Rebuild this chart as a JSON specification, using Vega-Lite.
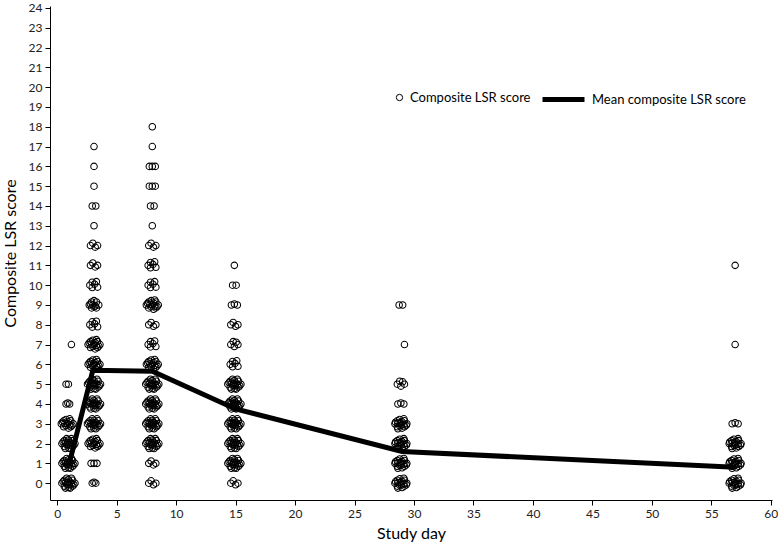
{
"$schema": "https://vega.github.io/schema/vega-lite/v6.json",
"width": 722, "height": 494,
"autosize": "none",
"padding": {"left": 50, "top": 6, "right": 6, "bottom": 48},
"background": "white",
"config": {"font": "Lato", "view": {"stroke": null},
 "axis": {"grid": false, "domainColor": "black", "tickColor": "black", "tickSize": 5, "labelFontSize": 12, "labelColor": "#222", "titleFontSize": 16, "titleFontWeight": "normal", "titleColor": "black", "labelFont": "Lato", "titleFont": "Lato", "labelOverlap": false},
 "legend": {"labelFont": "Lato", "labelFontSize": 13, "labelColor": "black", "padding": 0, "title": null}
},
"datasets": {
"mean": [{"day":1,"score":0.95},{"day":3,"score":5.7},{"day":8,"score":5.65},{"day":15,"score":3.75},{"day":29,"score":1.6},{"day":57,"score":0.8}],
"pts": [
{"day":0.4,"score":0},{"day":0.6,"score":0.15},{"day":0.6,"score":-0.15},{"day":0.8,"score":0.25},{"day":0.8,"score":-0.05},{"day":0.95,"score":0.18},{"day":0.95,"score":-0.22},{"day":1.1,"score":0.05},{"day":1.1,"score":-0.25},{"day":1.3,"score":0.15},{"day":1.3,"score":-0.15},{"day":1.5,"score":0},
{"day":0.4,"score":1},{"day":0.6,"score":1.15},{"day":0.6,"score":0.85},{"day":0.8,"score":1.25},{"day":0.8,"score":0.95},{"day":0.95,"score":1.18},{"day":0.95,"score":0.78},{"day":1.1,"score":1.05},{"day":1.1,"score":0.75},{"day":1.3,"score":1.15},{"day":1.3,"score":0.85},{"day":1.5,"score":1},
{"day":0.4,"score":2},{"day":0.6,"score":2.15},{"day":0.6,"score":1.85},{"day":0.8,"score":2.25},{"day":0.8,"score":1.95},{"day":0.95,"score":2.18},{"day":0.95,"score":1.78},{"day":1.1,"score":2.05},{"day":1.1,"score":1.75},{"day":1.3,"score":2.15},{"day":1.3,"score":1.85},{"day":1.5,"score":2},
{"day":0.35,"score":3},{"day":0.55,"score":3.15},{"day":0.55,"score":2.85},{"day":0.75,"score":3.22},{"day":0.75,"score":2.9},{"day":0.95,"score":3.1},{"day":0.95,"score":2.78},{"day":1.15,"score":3.15},{"day":1.15,"score":2.85},{"day":1.35,"score":3},
{"day":0.75,"score":4},{"day":0.9,"score":4.05},{"day":1.05,"score":4},
{"day":0.75,"score":5},{"day":0.95,"score":5},
{"day":1.2,"score":7},
{"day":0.5,"score":0.08},{"day":0.7,"score":0.02},{"day":0.7,"score":-0.25},{"day":0.9,"score":0.05},{"day":1.0,"score":-0.08},{"day":1.2,"score":0.25},{"day":1.2,"score":-0.02},{"day":1.4,"score":-0.08},
{"day":0.5,"score":1.08},{"day":0.7,"score":1.02},{"day":0.7,"score":0.75},{"day":0.9,"score":1.05},{"day":1.0,"score":0.92},{"day":1.2,"score":1.25},{"day":1.2,"score":0.98},{"day":1.4,"score":0.92},
{"day":0.5,"score":2.08},{"day":0.7,"score":2.02},{"day":0.7,"score":1.75},{"day":0.9,"score":2.05},{"day":1.0,"score":1.92},{"day":1.2,"score":2.25},{"day":1.2,"score":1.98},{"day":1.4,"score":1.92},
{"day":0.45,"score":3.08},{"day":0.65,"score":3.02},{"day":0.85,"score":3.02},{"day":1.05,"score":2.95},{"day":1.05,"score":3.25},{"day":1.25,"score":2.92},
{"day":2.95,"score":0},{"day":3.1,"score":0.05},{"day":3.25,"score":0},
{"day":2.85,"score":1},{"day":3.1,"score":1},{"day":3.35,"score":1},
{"day":2.6,"score":2},{"day":2.8,"score":2.15},{"day":2.8,"score":1.85},{"day":3.0,"score":2.22},{"day":3.0,"score":1.9},{"day":3.2,"score":2.1},{"day":3.2,"score":1.78},{"day":3.4,"score":2.15},{"day":3.4,"score":1.85},{"day":3.6,"score":2},
{"day":2.55,"score":3},{"day":2.75,"score":3.15},{"day":2.75,"score":2.85},{"day":2.95,"score":3.25},{"day":2.95,"score":2.95},{"day":3.1,"score":3.18},{"day":3.1,"score":2.78},{"day":3.25,"score":3.05},{"day":3.25,"score":2.75},{"day":3.45,"score":3.15},{"day":3.45,"score":2.85},{"day":3.65,"score":3},
{"day":2.55,"score":4},{"day":2.75,"score":4.15},{"day":2.75,"score":3.85},{"day":2.95,"score":4.25},{"day":2.95,"score":3.95},{"day":3.1,"score":4.18},{"day":3.1,"score":3.78},{"day":3.25,"score":4.05},{"day":3.25,"score":3.75},{"day":3.45,"score":4.15},{"day":3.45,"score":3.85},{"day":3.65,"score":4},
{"day":2.55,"score":5},{"day":2.75,"score":5.15},{"day":2.75,"score":4.85},{"day":2.95,"score":5.25},{"day":2.95,"score":4.95},{"day":3.1,"score":5.18},{"day":3.1,"score":4.78},{"day":3.25,"score":5.05},{"day":3.25,"score":4.75},{"day":3.45,"score":5.15},{"day":3.45,"score":4.85},{"day":3.65,"score":5},
{"day":2.6,"score":6},{"day":2.8,"score":6.15},{"day":2.8,"score":5.85},{"day":3.0,"score":6.22},{"day":3.0,"score":5.9},{"day":3.2,"score":6.1},{"day":3.2,"score":5.78},{"day":3.4,"score":6.15},{"day":3.4,"score":5.85},{"day":3.6,"score":6},
{"day":2.6,"score":7},{"day":2.8,"score":7.15},{"day":2.8,"score":6.85},{"day":3.0,"score":7.22},{"day":3.0,"score":6.9},{"day":3.2,"score":7.1},{"day":3.2,"score":6.78},{"day":3.4,"score":7.15},{"day":3.4,"score":6.85},{"day":3.6,"score":7},
{"day":2.75,"score":8},{"day":2.95,"score":8.15},{"day":2.95,"score":7.88},{"day":3.15,"score":8.05},{"day":3.3,"score":8.18},{"day":3.4,"score":7.9},
{"day":2.7,"score":9},{"day":2.9,"score":9.15},{"day":2.9,"score":8.85},{"day":3.1,"score":9.22},{"day":3.1,"score":8.9},{"day":3.3,"score":9.15},{"day":3.3,"score":8.85},{"day":3.5,"score":9},
{"day":2.75,"score":10},{"day":2.95,"score":10.15},{"day":2.95,"score":9.88},{"day":3.15,"score":10.05},{"day":3.3,"score":10.18},{"day":3.4,"score":9.9},
{"day":2.8,"score":11},{"day":3.0,"score":11.12},{"day":3.2,"score":10.92},{"day":3.4,"score":11},
{"day":2.8,"score":12},{"day":3.0,"score":12.12},{"day":3.2,"score":11.92},{"day":3.4,"score":12},
{"day":3.1,"score":13},
{"day":2.95,"score":14},{"day":3.25,"score":14},
{"day":3.1,"score":15},{"day":3.1,"score":16},{"day":3.1,"score":17},
{"day":2.65,"score":3.08},{"day":2.85,"score":3.02},{"day":2.85,"score":2.75},{"day":3.05,"score":3.05},{"day":3.15,"score":2.92},{"day":3.35,"score":3.25},{"day":3.35,"score":2.98},{"day":3.55,"score":2.92},
{"day":2.65,"score":4.08},{"day":2.85,"score":4.02},{"day":2.85,"score":3.75},{"day":3.05,"score":4.05},{"day":3.15,"score":3.92},{"day":3.35,"score":4.25},{"day":3.35,"score":3.98},{"day":3.55,"score":3.92},
{"day":2.65,"score":5.08},{"day":2.85,"score":5.02},{"day":2.85,"score":4.75},{"day":3.05,"score":5.05},{"day":3.15,"score":4.92},{"day":3.35,"score":5.25},{"day":3.35,"score":4.98},{"day":3.55,"score":4.92},
{"day":2.7,"score":2.08},{"day":2.9,"score":2.02},{"day":3.1,"score":2.02},{"day":3.3,"score":1.95},{"day":3.3,"score":2.25},{"day":3.5,"score":1.92},
{"day":2.7,"score":6.08},{"day":2.9,"score":6.02},{"day":3.1,"score":6.02},{"day":3.3,"score":5.95},{"day":3.3,"score":6.25},{"day":3.5,"score":5.92},
{"day":2.7,"score":7.08},{"day":2.9,"score":7.02},{"day":3.1,"score":7.02},{"day":3.3,"score":6.95},{"day":3.3,"score":7.25},{"day":3.5,"score":6.92},
{"day":2.8,"score":9.05},{"day":3.0,"score":9.0},{"day":3.2,"score":8.95},
{"day":7.7,"score":0},{"day":7.9,"score":0.12},{"day":8.1,"score":-0.08},{"day":8.3,"score":0},
{"day":7.7,"score":1},{"day":7.9,"score":1.12},{"day":8.1,"score":0.92},{"day":8.3,"score":1},
{"day":7.45,"score":2},{"day":7.65,"score":2.15},{"day":7.65,"score":1.85},{"day":7.85,"score":2.25},{"day":7.85,"score":1.95},{"day":8.0,"score":2.18},{"day":8.0,"score":1.78},{"day":8.15,"score":2.05},{"day":8.15,"score":1.75},{"day":8.35,"score":2.15},{"day":8.35,"score":1.85},{"day":8.55,"score":2},
{"day":7.45,"score":3},{"day":7.65,"score":3.15},{"day":7.65,"score":2.85},{"day":7.85,"score":3.25},{"day":7.85,"score":2.95},{"day":8.0,"score":3.18},{"day":8.0,"score":2.78},{"day":8.15,"score":3.05},{"day":8.15,"score":2.75},{"day":8.35,"score":3.15},{"day":8.35,"score":2.85},{"day":8.55,"score":3},
{"day":7.45,"score":4},{"day":7.65,"score":4.15},{"day":7.65,"score":3.85},{"day":7.85,"score":4.25},{"day":7.85,"score":3.95},{"day":8.0,"score":4.18},{"day":8.0,"score":3.78},{"day":8.15,"score":4.05},{"day":8.15,"score":3.75},{"day":8.35,"score":4.15},{"day":8.35,"score":3.85},{"day":8.55,"score":4},
{"day":7.45,"score":5},{"day":7.65,"score":5.15},{"day":7.65,"score":4.85},{"day":7.85,"score":5.25},{"day":7.85,"score":4.95},{"day":8.0,"score":5.18},{"day":8.0,"score":4.78},{"day":8.15,"score":5.05},{"day":8.15,"score":4.75},{"day":8.35,"score":5.15},{"day":8.35,"score":4.85},{"day":8.55,"score":5},
{"day":7.5,"score":6},{"day":7.7,"score":6.15},{"day":7.7,"score":5.85},{"day":7.9,"score":6.22},{"day":7.9,"score":5.9},{"day":8.1,"score":6.1},{"day":8.1,"score":5.78},{"day":8.3,"score":6.15},{"day":8.3,"score":5.85},{"day":8.5,"score":6},
{"day":7.65,"score":7},{"day":7.85,"score":7.15},{"day":7.85,"score":6.88},{"day":8.05,"score":7.05},{"day":8.2,"score":7.18},{"day":8.3,"score":6.9},
{"day":7.7,"score":8},{"day":7.9,"score":8.12},{"day":8.1,"score":7.92},{"day":8.3,"score":8},
{"day":7.5,"score":9},{"day":7.7,"score":9.15},{"day":7.7,"score":8.85},{"day":7.9,"score":9.22},{"day":7.9,"score":8.9},{"day":8.1,"score":9.1},{"day":8.1,"score":8.78},{"day":8.3,"score":9.15},{"day":8.3,"score":8.85},{"day":8.5,"score":9},
{"day":7.65,"score":10},{"day":7.85,"score":10.15},{"day":7.85,"score":9.88},{"day":8.05,"score":10.05},{"day":8.2,"score":10.18},{"day":8.3,"score":9.9},
{"day":7.65,"score":11},{"day":7.85,"score":11.15},{"day":7.85,"score":10.88},{"day":8.05,"score":11.05},{"day":8.2,"score":11.18},{"day":8.3,"score":10.9},
{"day":7.7,"score":12},{"day":7.9,"score":12.12},{"day":8.1,"score":11.92},{"day":8.3,"score":12},
{"day":8.0,"score":13},
{"day":7.85,"score":14},{"day":8.15,"score":14},
{"day":7.75,"score":15},{"day":8.0,"score":15},{"day":8.25,"score":15},
{"day":7.75,"score":16},{"day":8.0,"score":16},{"day":8.25,"score":16},
{"day":8.0,"score":17},{"day":8.0,"score":18},
{"day":7.55,"score":2.08},{"day":7.75,"score":2.02},{"day":7.75,"score":1.75},{"day":7.95,"score":2.05},{"day":8.05,"score":1.92},{"day":8.25,"score":2.25},{"day":8.25,"score":1.98},{"day":8.45,"score":1.92},
{"day":7.55,"score":3.08},{"day":7.75,"score":3.02},{"day":7.75,"score":2.75},{"day":7.95,"score":3.05},{"day":8.05,"score":2.92},{"day":8.25,"score":3.25},{"day":8.25,"score":2.98},{"day":8.45,"score":2.92},
{"day":7.55,"score":4.08},{"day":7.75,"score":4.02},{"day":7.75,"score":3.75},{"day":7.95,"score":4.05},{"day":8.05,"score":3.92},{"day":8.25,"score":4.25},{"day":8.25,"score":3.98},{"day":8.45,"score":3.92},
{"day":7.55,"score":5.08},{"day":7.75,"score":5.02},{"day":7.75,"score":4.75},{"day":7.95,"score":5.05},{"day":8.05,"score":4.92},{"day":8.25,"score":5.25},{"day":8.25,"score":4.98},{"day":8.45,"score":4.92},
{"day":7.6,"score":6.08},{"day":7.8,"score":6.02},{"day":8.0,"score":6.02},{"day":8.2,"score":5.95},{"day":8.2,"score":6.25},{"day":8.4,"score":5.92},
{"day":7.6,"score":9.08},{"day":7.8,"score":9.02},{"day":8.0,"score":9.02},{"day":8.2,"score":8.95},{"day":8.2,"score":9.25},{"day":8.4,"score":8.92},
{"day":14.6,"score":0},{"day":14.8,"score":0.12},{"day":15.0,"score":-0.08},{"day":15.2,"score":0},
{"day":14.35,"score":1},{"day":14.55,"score":1.15},{"day":14.55,"score":0.85},{"day":14.75,"score":1.25},{"day":14.75,"score":0.95},{"day":14.9,"score":1.18},{"day":14.9,"score":0.78},{"day":15.05,"score":1.05},{"day":15.05,"score":0.75},{"day":15.25,"score":1.15},{"day":15.25,"score":0.85},{"day":15.45,"score":1},
{"day":14.35,"score":2},{"day":14.55,"score":2.15},{"day":14.55,"score":1.85},{"day":14.75,"score":2.25},{"day":14.75,"score":1.95},{"day":14.9,"score":2.18},{"day":14.9,"score":1.78},{"day":15.05,"score":2.05},{"day":15.05,"score":1.75},{"day":15.25,"score":2.15},{"day":15.25,"score":1.85},{"day":15.45,"score":2},
{"day":14.35,"score":3},{"day":14.55,"score":3.15},{"day":14.55,"score":2.85},{"day":14.75,"score":3.25},{"day":14.75,"score":2.95},{"day":14.9,"score":3.18},{"day":14.9,"score":2.78},{"day":15.05,"score":3.05},{"day":15.05,"score":2.75},{"day":15.25,"score":3.15},{"day":15.25,"score":2.85},{"day":15.45,"score":3},
{"day":14.35,"score":4},{"day":14.55,"score":4.15},{"day":14.55,"score":3.85},{"day":14.75,"score":4.25},{"day":14.75,"score":3.95},{"day":14.9,"score":4.18},{"day":14.9,"score":3.78},{"day":15.05,"score":4.05},{"day":15.05,"score":3.75},{"day":15.25,"score":4.15},{"day":15.25,"score":3.85},{"day":15.45,"score":4},
{"day":14.35,"score":5},{"day":14.55,"score":5.15},{"day":14.55,"score":4.85},{"day":14.75,"score":5.25},{"day":14.75,"score":4.95},{"day":14.9,"score":5.18},{"day":14.9,"score":4.78},{"day":15.05,"score":5.05},{"day":15.05,"score":4.75},{"day":15.25,"score":5.15},{"day":15.25,"score":4.85},{"day":15.45,"score":5},
{"day":14.55,"score":6},{"day":14.75,"score":6.15},{"day":14.75,"score":5.88},{"day":14.95,"score":6.05},{"day":15.1,"score":6.18},{"day":15.2,"score":5.9},
{"day":14.6,"score":7},{"day":14.8,"score":7.15},{"day":14.9,"score":6.9},{"day":15.05,"score":7.12},{"day":15.2,"score":7},
{"day":14.6,"score":8},{"day":14.8,"score":8.12},{"day":15.0,"score":7.92},{"day":15.2,"score":8},
{"day":14.65,"score":9},{"day":14.9,"score":9.05},{"day":15.15,"score":9},
{"day":14.75,"score":10},{"day":15.05,"score":10},
{"day":14.9,"score":11},
{"day":14.45,"score":1.08},{"day":14.65,"score":1.02},{"day":14.65,"score":0.75},{"day":14.85,"score":1.05},{"day":14.95,"score":0.92},{"day":15.15,"score":1.25},{"day":15.15,"score":0.98},{"day":15.35,"score":0.92},
{"day":14.45,"score":2.08},{"day":14.65,"score":2.02},{"day":14.65,"score":1.75},{"day":14.85,"score":2.05},{"day":14.95,"score":1.92},{"day":15.15,"score":2.25},{"day":15.15,"score":1.98},{"day":15.35,"score":1.92},
{"day":14.45,"score":3.08},{"day":14.65,"score":3.02},{"day":14.65,"score":2.75},{"day":14.85,"score":3.05},{"day":14.95,"score":2.92},{"day":15.15,"score":3.25},{"day":15.15,"score":2.98},{"day":15.35,"score":2.92},
{"day":14.45,"score":4.08},{"day":14.65,"score":4.02},{"day":14.65,"score":3.75},{"day":14.85,"score":4.05},{"day":14.95,"score":3.92},{"day":15.15,"score":4.25},{"day":15.15,"score":3.98},{"day":15.35,"score":3.92},
{"day":14.45,"score":5.08},{"day":14.65,"score":5.02},{"day":14.65,"score":4.75},{"day":14.85,"score":5.05},{"day":14.95,"score":4.92},{"day":15.15,"score":5.25},{"day":15.15,"score":4.98},{"day":15.35,"score":4.92},
{"day":28.4,"score":0},{"day":28.6,"score":0.15},{"day":28.6,"score":-0.15},{"day":28.8,"score":0.22},{"day":28.8,"score":-0.1},{"day":29.0,"score":0.1},{"day":29.0,"score":-0.22},{"day":29.2,"score":0.15},{"day":29.2,"score":-0.15},{"day":29.4,"score":0},
{"day":28.4,"score":1},{"day":28.6,"score":1.15},{"day":28.6,"score":0.85},{"day":28.8,"score":1.22},{"day":28.8,"score":0.9},{"day":29.0,"score":1.1},{"day":29.0,"score":0.78},{"day":29.2,"score":1.15},{"day":29.2,"score":0.85},{"day":29.4,"score":1},
{"day":28.4,"score":2},{"day":28.6,"score":2.15},{"day":28.6,"score":1.85},{"day":28.8,"score":2.22},{"day":28.8,"score":1.9},{"day":29.0,"score":2.1},{"day":29.0,"score":1.78},{"day":29.2,"score":2.15},{"day":29.2,"score":1.85},{"day":29.4,"score":2},
{"day":28.4,"score":3},{"day":28.6,"score":3.15},{"day":28.6,"score":2.85},{"day":28.8,"score":3.22},{"day":28.8,"score":2.9},{"day":29.0,"score":3.1},{"day":29.0,"score":2.78},{"day":29.2,"score":3.15},{"day":29.2,"score":2.85},{"day":29.4,"score":3},
{"day":28.65,"score":4},{"day":28.9,"score":4.05},{"day":29.15,"score":4},
{"day":28.6,"score":5},{"day":28.8,"score":5.15},{"day":28.9,"score":4.9},{"day":29.05,"score":5.12},{"day":29.2,"score":5},
{"day":29.2,"score":7},
{"day":28.75,"score":9},{"day":29.05,"score":9},
{"day":28.45,"score":0.08},{"day":28.65,"score":0.02},{"day":28.65,"score":-0.25},{"day":28.85,"score":0.05},{"day":28.95,"score":-0.08},{"day":29.15,"score":0.25},{"day":29.15,"score":-0.02},{"day":29.35,"score":-0.08},
{"day":28.45,"score":1.08},{"day":28.65,"score":1.02},{"day":28.65,"score":0.75},{"day":28.85,"score":1.05},{"day":28.95,"score":0.92},{"day":29.15,"score":1.25},{"day":29.15,"score":0.98},{"day":29.35,"score":0.92},
{"day":28.45,"score":2.08},{"day":28.65,"score":2.02},{"day":28.65,"score":1.75},{"day":28.85,"score":2.05},{"day":28.95,"score":1.92},{"day":29.15,"score":2.25},{"day":29.15,"score":1.98},{"day":29.35,"score":1.92},
{"day":28.45,"score":3.08},{"day":28.65,"score":3.02},{"day":28.65,"score":2.75},{"day":28.85,"score":3.05},{"day":28.95,"score":2.92},{"day":29.15,"score":3.25},{"day":29.15,"score":2.98},{"day":29.35,"score":2.92},
{"day":56.5,"score":0},{"day":56.7,"score":0.15},{"day":56.7,"score":-0.15},{"day":56.9,"score":0.22},{"day":56.9,"score":-0.1},{"day":57.1,"score":0.1},{"day":57.1,"score":-0.22},{"day":57.3,"score":0.15},{"day":57.3,"score":-0.15},{"day":57.5,"score":0},
{"day":56.5,"score":1},{"day":56.7,"score":1.15},{"day":56.7,"score":0.85},{"day":56.9,"score":1.22},{"day":56.9,"score":0.9},{"day":57.1,"score":1.1},{"day":57.1,"score":0.78},{"day":57.3,"score":1.15},{"day":57.3,"score":0.85},{"day":57.5,"score":1},
{"day":56.5,"score":2},{"day":56.7,"score":2.15},{"day":56.7,"score":1.85},{"day":56.9,"score":2.22},{"day":56.9,"score":1.9},{"day":57.1,"score":2.1},{"day":57.1,"score":1.78},{"day":57.3,"score":2.15},{"day":57.3,"score":1.85},{"day":57.5,"score":2},
{"day":56.75,"score":3},{"day":57.0,"score":3.05},{"day":57.25,"score":3},
{"day":57.0,"score":7},{"day":57.0,"score":11},
{"day":56.55,"score":0.08},{"day":56.75,"score":0.02},{"day":56.75,"score":-0.25},{"day":56.95,"score":0.05},{"day":57.05,"score":-0.08},{"day":57.25,"score":0.25},{"day":57.25,"score":-0.02},{"day":57.45,"score":-0.08},
{"day":56.55,"score":1.08},{"day":56.75,"score":1.02},{"day":56.75,"score":0.75},{"day":56.95,"score":1.05},{"day":57.05,"score":0.92},{"day":57.25,"score":1.25},{"day":57.25,"score":0.98},{"day":57.45,"score":0.92},
{"day":56.55,"score":2.08},{"day":56.75,"score":2.02},{"day":56.75,"score":1.75},{"day":56.95,"score":2.05},{"day":57.05,"score":1.92},{"day":57.25,"score":2.25},{"day":57.25,"score":1.98},{"day":57.45,"score":1.92}
]
},
"layer": [
 {"data": {"name": "pts"},
  "mark": {"type": "point", "filled": false, "size": 42, "strokeWidth": 1.05, "color": "black", "opacity": 1},
  "encoding": {
   "x": {"field": "day", "type": "quantitative", "scale": {"domain": [-0.6, 60.1], "nice": false, "zero": false},
         "axis": {"values": [0,5,10,15,20,25,30,35,40,45,50,55,60], "title": "Study day", "labelPadding": 3, "titlePadding": 6, "labelOverlap": false}},
   "y": {"field": "score", "type": "quantitative", "scale": {"domain": [-0.85, 24.1], "nice": false, "zero": false},
         "axis": {"values": [0,1,2,3,4,5,6,7,8,9,10,11,12,13,14,15,16,17,18,19,20,21,22,23,24], "tickCount": 25, "title": "Composite LSR score", "labelPadding": 3, "titlePadding": 10, "labelOverlap": false, "labelSeparation": 0}},
   "shape": {"datum": "Composite LSR score", "type": "nominal", "scale": {"range": ["circle"]},
             "legend": {"orient": "none", "legendX": 343, "legendY": 85, "symbolSize": 40, "symbolStrokeWidth": 1, "symbolStrokeColor": "black", "labelOffset": 4}}
  }},
 {"data": {"name": "mean"},
  "mark": {"type": "line", "strokeWidth": 5, "color": "black"},
  "encoding": {
   "x": {"field": "day", "type": "quantitative"},
   "y": {"field": "score", "type": "quantitative"},
   "color": {"datum": "Mean composite LSR score", "type": "nominal", "scale": {"range": ["black"]},
             "legend": {"orient": "none", "legendX": 490, "legendY": 70, "symbolType": "stroke", "symbolSize": 1764, "symbolStrokeWidth": 5, "labelOffset": 5}}
  }}
]
}
